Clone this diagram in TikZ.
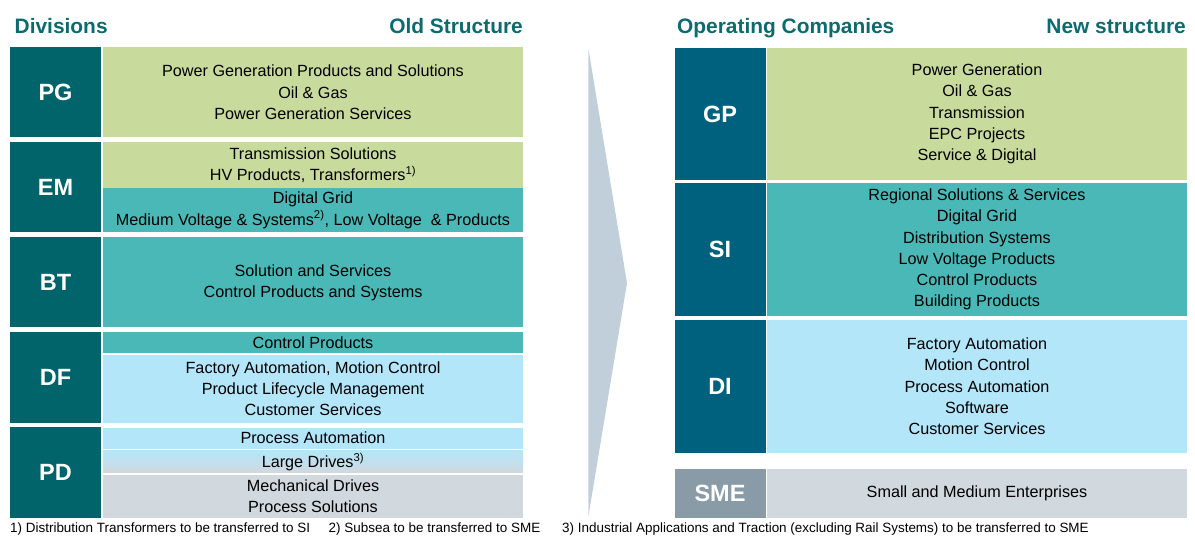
\documentclass[tikz,border=0pt]{standalone}
\usepackage{fontspec}
\setmainfont{Liberation Sans}
\definecolor{divteal}{HTML}{00646A}
\definecolor{opblue}{HTML}{00617F}
\definecolor{smegray}{HTML}{8A9BA8}
\definecolor{cgreen}{HTML}{C9DA9D}
\definecolor{cteal}{HTML}{4BB8B8}
\definecolor{clblue}{HTML}{B4E6FA}
\definecolor{cgray}{HTML}{D1D8DE}
\definecolor{headtxt}{HTML}{0B6B6F}
\definecolor{arrowfill}{HTML}{C0CFDA}
\begin{document}
\begin{tikzpicture}[x=1bp,y=-1bp,
  head/.style={inner sep=0, text=headtxt, font=\bfseries\fontsize{20.9bp}{24bp}\selectfont},
  lbl/.style={inner sep=0, text=white, minimum width=91bp, font=\bfseries\fontsize{23.5bp}{26bp}\selectfont},
  cell/.style={inner sep=0, align=center, minimum width=420bp, text=black, font=\fontsize{16.2bp}{21.3bp}\selectfont},
  note/.style={inner sep=0, anchor=west, text=black, font=\fontsize{13.45bp}{15bp}\selectfont}]
\useasboundingbox (0,0) rectangle (1195,537);

% headers
\node[head, anchor=base west] (hdiv) at (14.5,33.3) {Divisions};
\node[head, anchor=base east] (hold) at (523,33.3) {Old Structure};
\node[head, anchor=base west] (hop) at (677,33.3) {Operating Companies};
\node[head, anchor=base east] (hnew) at (1186,33.3) {New structure};

% transition arrow
\fill[arrowfill] (588.3,48) -- (627,283) -- (588.3,517) -- cycle;

% old divisions
\node[lbl, fill=divteal, minimum height=90bp] (pg) at (55.5,92.5) {PG};
\node[lbl, fill=divteal, minimum height=90bp] (em) at (55.5,187.5) {EM};
\node[lbl, fill=divteal, minimum height=90bp] (bt) at (55.5,282.5) {BT};
\node[lbl, fill=divteal, minimum height=90bp] (df) at (55.5,377.5) {DF};
\node[lbl, fill=divteal, minimum height=90.5bp] (pd) at (55.5,472.75) {PD};

\node[cell, fill=cgreen, minimum height=90bp] (pgc) at (313,92.5)
  {Power Generation Products and Solutions\\Oil \& Gas\\Power Generation Services};
\node[cell, fill=cgreen, minimum height=45.5bp] (emc1) at (313,165.25)
  {Transmission Solutions\\HV Products, Transformers\textsuperscript{1)}};
\node[cell, fill=cteal, minimum height=44.5bp] (emc2) at (313,210.25)
  {Digital Grid\\Medium Voltage \& Systems\textsuperscript{2)}, Low Voltage\ \ \& Products};
\node[cell, fill=cteal, minimum height=90bp] (btc) at (313,282.5)
  {Solution and Services\\Control Products and Systems};
\node[cell, fill=cteal, minimum height=20.8bp] (dfc1) at (313,342.9) {Control Products};
\node[cell, fill=clblue, minimum height=67.2bp] (dfc2) at (313,388.9)
  {Factory Automation, Motion Control\\Product Lifecycle Management\\Customer Services};
\node[cell, fill=clblue, minimum height=21.2bp] (pdc1) at (313,438.1) {Process Automation};
\node[cell, top color=clblue, bottom color=cgray, minimum height=22bp] (pdc2) at (313,461.7)
  {Large Drives\textsuperscript{3)}};
\node[cell, fill=cgray, minimum height=43.3bp] (pdc3) at (313,496.35)
  {Mechanical Drives\\Process Solutions};

% new operating companies
\node[lbl, fill=opblue, minimum height=132.5bp] (gp) at (720,114) {GP};
\node[lbl, fill=opblue, minimum height=133bp] (si) at (720,249.5) {SI};
\node[lbl, fill=opblue, minimum height=132.7bp] (di) at (720,386.35) {DI};
\node[lbl, fill=smegray, minimum height=49bp] (sme) at (720,493.75) {SME};

\node[cell, fill=cgreen, minimum height=132.5bp] (gpc) at (977,114)
  {Power Generation\\Oil \& Gas\\Transmission\\EPC Projects\\Service \& Digital};
\node[cell, fill=cteal, minimum height=133bp] (sic) at (977,249.5)
  {Regional Solutions \& Services\\Digital Grid\\Distribution Systems\\Low Voltage Products\\Control Products\\Building Products};
\node[cell, fill=clblue, minimum height=132.7bp] (dic) at (977,386.35)
  {Factory Automation\\Motion Control\\Process Automation\\Software\\Customer Services};
\node[cell, fill=cgray, minimum height=49bp] (smec) at (977,493.75)
  {Small and Medium Enterprises};

% footnotes
\node[note] (n1) at (10,529.5) {1) Distribution Transformers to be transferred to SI};
\node[note] (n2) at (328.5,529.5) {2) Subsea to be transferred to SME};
\node[note] (n3) at (562,529.5) {3) Industrial Applications and Traction (excluding Rail Systems) to be transferred to SME};
\end{tikzpicture}
\end{document}
